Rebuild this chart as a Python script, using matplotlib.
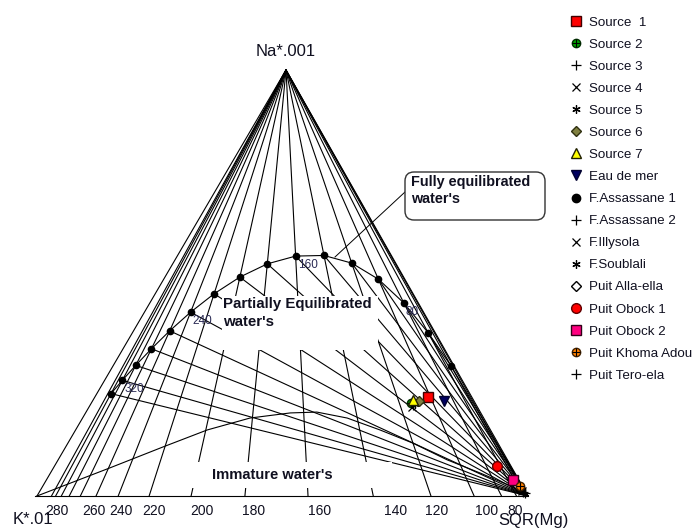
import numpy as np
import matplotlib.pyplot as plt
from matplotlib.lines import Line2D
from matplotlib.patches import Rectangle, FancyBboxPatch

plt.rcParams['font.family'] = ['Liberation Sans', 'DejaVu Sans']

# samples, as % of (Na/1000 + K/100 + sqrt(Mg))
names = ['Source  1', 'Source 2', 'Source 3', 'Source 4', 'Source 5', 'Source 6',
         'Source 7', 'Eau de mer', 'F.Assassane 1', 'F.Assassane 2', 'F.Illysola',
         'F.Soublali', 'Puit Alla-ella', 'Puit Obock 1', 'Puit Obock 2',
         'Puit Khoma Adou', 'Puit Tero-ela']
na_pct = [23.2, 21.8, 21.4, 20.9, 21.6, 22.3, 22.5, 22.3, 1.4, 0.9, 1.2, 1.9, 2.6, 7.0, 3.8, 2.4, 0.7]
k_pct = [8.9, 13.1, 12.9, 13.3, 12.4, 11.2, 12.3, 6.1, 0.7, 0.6, 0.6, 0.9, 1.0, 2.9, 1.2, 0.5, 0.3]
mg_pct = [67.9, 65.1, 65.7, 65.8, 66.0, 66.5, 65.2, 71.6, 97.9, 98.5, 98.2, 97.2, 96.4, 90.1, 95.0, 97.1, 99.0]

# isotherm temperatures (deg C)
eq_temps = [340, 320, 300, 280, 260, 240, 220, 200, 180, 160, 140, 120, 100, 80, 60, 40]
kmg_temps = [360] + eq_temps + [20]
curve_labels = [320, 240, 160, 80]
base_labels = [280, 260, 240, 220, 200, 180, 160, 140, 120, 100, 80]
base_label_dx = [-23, -2, 3, 5, 11, 9, 12, 22, 6, 12, 14]   # label nudges, px

# immature water boundary (% Na, % Mg)
imm_na = [0, 6.6, 11.5, 15.5, 18.3, 19.5, 19.7, 18.3, 15.5, 12.4, 8.5, 5.4, 2.1, 0]
imm_mg = [0, 11.5, 19.8, 26.8, 34.1, 41.7, 47.0, 53.9, 62.0, 70.3, 79.2, 87.5, 95.9, 100]

K_PT = (37.0, 496.0)
MG_PT = (528.0, 496.0)
NA_PT = (286.0, 70.0)
TXT = '#101020'


def to_xy(na, k, mg):
    na, k, mg = (np.asarray(v, float) for v in (na, k, mg))
    s = na + k + mg
    x = (na * NA_PT[0] + k * K_PT[0] + mg * MG_PT[0]) / s
    y = (na * NA_PT[1] + k * K_PT[1] + mg * MG_PT[1]) / s
    return x, y


def giggenbach(t):
    # Giggenbach (1988) Na-K and K-Mg thermometers
    tk = np.asarray(t, float) + 273.15
    na_k = 10 ** (1390.0 / tk - 1.75)
    k2_mg = 10 ** (14.0 - 4410.0 / tk)
    return na_k / 10.0, np.sqrt(k2_mg) / 100.0


fig = plt.figure(figsize=(6.94, 5.29), dpi=100)
ax = fig.add_axes([0, 0, 1, 1])
ax.set_xlim(0, 694)
ax.set_ylim(529, 0)
ax.axis('off')

lw = 0.8
# triangle sides
ax.plot([K_PT[0], NA_PT[0], MG_PT[0]], [K_PT[1], NA_PT[1], MG_PT[1]], color='black', lw=lw, zorder=1)
ax.plot([K_PT[0] - 2, MG_PT[0]], [K_PT[1], MG_PT[1]], color='black', lw=lw, zorder=1)

# K-Mg isotherms from the Na corner
_, km = giggenbach(kmg_temps)
bx, by = to_xy(np.zeros_like(km), km, np.ones_like(km))
for x, y in zip(bx, by):
    ax.plot([NA_PT[0], x], [NA_PT[1], y], color='black', lw=lw, zorder=1)

# full equilibrium line and Na-K isotherms to the Mg corner
nk, km = giggenbach(eq_temps)
ex, ey = to_xy(nk, np.ones_like(nk), 1.0 / km)
for x, y in zip(ex, ey):
    ax.plot([x, MG_PT[0]], [y, MG_PT[1]], color='black', lw=lw, zorder=1)
ax.plot(ex, ey, color='black', lw=lw, zorder=2)
ax.plot(ex, ey, 'o', color='black', ms=4.5, zorder=2)
for t, x, y in zip(eq_temps, ex, ey):
    if t in curve_labels:
        ax.text(x + 2, y + 3, str(t), ha='left', va='top', fontsize=8.5, color='#2b2b55', zorder=4)

# immature water boundary
ix, iy = to_xy(imm_na, 100 - np.array(imm_na) - np.array(imm_mg), imm_mg)
ax.plot(ix, iy, color='black', lw=lw, zorder=1)

# temperature labels along the base
_, km = giggenbach(base_labels)
lx, _ = to_xy(np.zeros_like(km), km, np.ones_like(km))
for t, x, dx in zip(base_labels, lx, base_label_dx):
    ax.text(x + dx, 511, str(t), ha='center', va='center', fontsize=10, color=TXT)

# corner labels
ax.text(NA_PT[0], 51, 'Na*.001', ha='center', va='center', fontsize=12, color=TXT)
ax.text(33, 520, 'K*.01', ha='center', va='center', fontsize=12, color=TXT)
ax.text(498, 520, 'SQR(Mg)', ha='left', va='center', fontsize=12, color=TXT)

# region labels on white boxes
ax.add_patch(Rectangle((222, 296), 156, 54, fc='white', ec='none', zorder=3))
ax.text(223, 297, "Partially Equilibrated\nwater's", ha='left', va='top', fontsize=10.8,
        fontweight='bold', linespacing=1.4, color=TXT, zorder=4)
ax.add_patch(Rectangle((175, 462), 217, 26, fc='white', ec='none', zorder=3))
ax.text(212, 475, "Immature water's", ha='left', va='center', fontsize=10.6,
        fontweight='bold', color=TXT, zorder=4)

# callout
ax.plot([405, 335], [192, 257], color='black', lw=0.7, zorder=2)
ax.add_patch(FancyBboxPatch((405, 172), 140, 48, boxstyle='round,pad=0,rounding_size=9',
                            fc='white', ec='#333333', lw=1.0, zorder=6))
ax.text(411, 175, "Fully equilibrated\nwater's", ha='left', va='top', fontsize=10.4,
        fontweight='bold', linespacing=1.25, color=TXT, zorder=7)

# sample markers
styles = [
    [dict(marker='s', mfc='#ff0000', mec='#400000', ms=7)],
    [dict(marker='o', mfc='#00a000', mec='#003000', ms=6), dict(marker='+', color='black', ms=6, mew=0.8)],
    [dict(marker='+', color='black', ms=7, mew=0.9)],
    [dict(marker='x', color='black', ms=6, mew=0.9)],
    [dict(marker=(6, 2, 0), color='black', ms=6, mew=0.9)],
    [dict(marker='D', mfc='#808040', mec='#303010', ms=5.5)],
    [dict(marker='^', mfc='#ffff00', mec='#202000', ms=6.5)],
    [dict(marker='v', mfc='#000060', mec='#000030', ms=7)],
    [dict(marker='o', mfc='black', mec='black', ms=6)],
    [dict(marker='+', color='black', ms=7, mew=0.9)],
    [dict(marker='x', color='black', ms=6, mew=0.9)],
    [dict(marker=(6, 2, 0), color='black', ms=6, mew=0.9)],
    [dict(marker='D', mfc='white', mec='black', ms=5.5)],
    [dict(marker='o', mfc='#ff0000', mec='#600000', ms=7)],
    [dict(marker='s', mfc='#ff0080', mec='#300018', ms=6.5)],
    [dict(marker='o', mfc='#ff8000', mec='#402000', ms=6), dict(marker='+', color='black', ms=6, mew=0.8)],
    [dict(marker='+', color='black', ms=7, mew=0.9)],
]

sx, sy = to_xy(na_pct, k_pct, mg_pct)
handles = []
for st, x, y in zip(styles, sx, sy):
    parts = []
    for s in st:
        ax.plot([x], [y], ls='', zorder=5, **s)
        parts.append(Line2D([], [], ls='', **s))
    handles.append(tuple(parts) if len(parts) > 1 else parts[0])

fig.legend(handles, names, loc='upper left', bbox_to_anchor=(564 / 694, 1 - 11 / 529),
           frameon=False, fontsize=9.6, handlelength=1.0, handletextpad=0.45,
           labelspacing=0.73, borderpad=0.4, borderaxespad=0, labelcolor=TXT)

fig.savefig('out.png', dpi=100)
